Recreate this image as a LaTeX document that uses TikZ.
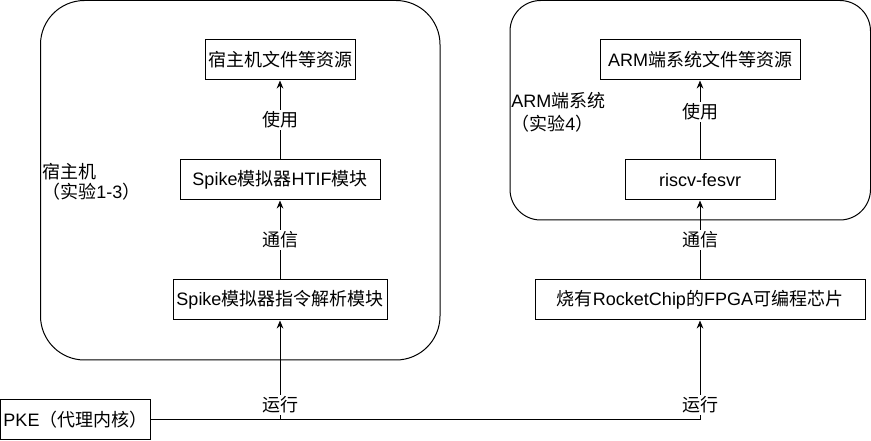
\documentclass[tikz,border=0pt]{standalone}
\usepackage{fontspec}
\setmainfont{Liberation Sans}
\newfontfamily\cjk{Noto Sans CJK SC}
\usetikzlibrary{arrows.meta}
\usetikzlibrary{positioning}
\tikzset{
    modBox/.style={
        ,   draw
        ,   line width=0.75pt
        ,   minimum height=30pt
        ,   inner sep=1pt
    },
    groupBox/.style={
        ,   draw
        ,   line width=0.75pt
        ,   inner sep=0pt
    },
    flowArrow/.style={
        ,   line width=0.75pt
        ,   -{Stealth[length=6pt,width=5pt]}
    },
    edgeLabel/.style={
        ,   fill=white
        ,   inner sep=1.5pt
    },
}
\begin{document}
\begin{tikzpicture}[x=0.75pt, y=-0.75pt, font={\fontsize{13.5pt}{15pt}\selectfont}]
	\useasboundingbox (0,0) rectangle (871,441);
	% two machines
	\draw[groupBox, rounded corners=33pt] (40.5,0.5) rectangle (440,360);
	\draw[groupBox, rounded corners=23pt] (510,0.5) rectangle (870.5,220);
	\node[anchor=west, align=left, inner sep=0pt] (hostLbl) at (42,182)
		{{\cjk 宿主机}\\[0pt]{\cjk （实验}1-3{\cjk ）}};
	\node[anchor=west, align=left, inner sep=0pt] (armLbl) at (511,112)
		{ARM{\cjk 端系统}\\[2pt]{\cjk （实验}4{\cjk ）}};

	% host side
	\node[modBox, minimum width=112.5pt] (hostRes) at (280,60) {\cjk 宿主机文件等资源};
	\node[modBox, minimum width=150pt] (htif) at (280,180) {Spike{\cjk 模拟器}HTIF{\cjk 模块}};
	\node[modBox, minimum width=160.5pt] (decode) at (280,300) {Spike{\cjk 模拟器指令解析模块}};

	% arm side
	\node[modBox, minimum width=150pt] (armRes) at (700,60) {ARM{\cjk 端系统文件等资源}};
	\node[modBox, minimum width=112.5pt] (fesvr) at (700,180) {riscv-fesvr};
	\node[modBox, minimum width=247.5pt] (fpga) at (700,300) {{\cjk 烧有}RocketChip{\cjk 的}FPGA{\cjk 可编程芯片}};

	\node[modBox, minimum width=112.5pt, anchor=west] (pke) at (0,420) {PKE{\cjk （代理内核）}};

	\draw[flowArrow] (htif) -- node[edgeLabel, pos=0.5] {\cjk 使用} (hostRes);
	\draw[flowArrow] (decode) -- node[edgeLabel] {\cjk 通信} (htif);
	\draw[flowArrow] (fesvr) -- node[edgeLabel, pos=0.6] {\cjk 使用} (armRes);
	\draw[flowArrow] (fpga) -- node[edgeLabel] {\cjk 通信} (fesvr);
	\draw[flowArrow] (pke.east) -| node[edgeLabel, pos=0.575] {\cjk 运行} (decode.south);
	\draw[flowArrow] (pke.east) -| node[edgeLabel, pos=0.575] {\cjk 运行} (fpga.south);
\end{tikzpicture}
\end{document}
